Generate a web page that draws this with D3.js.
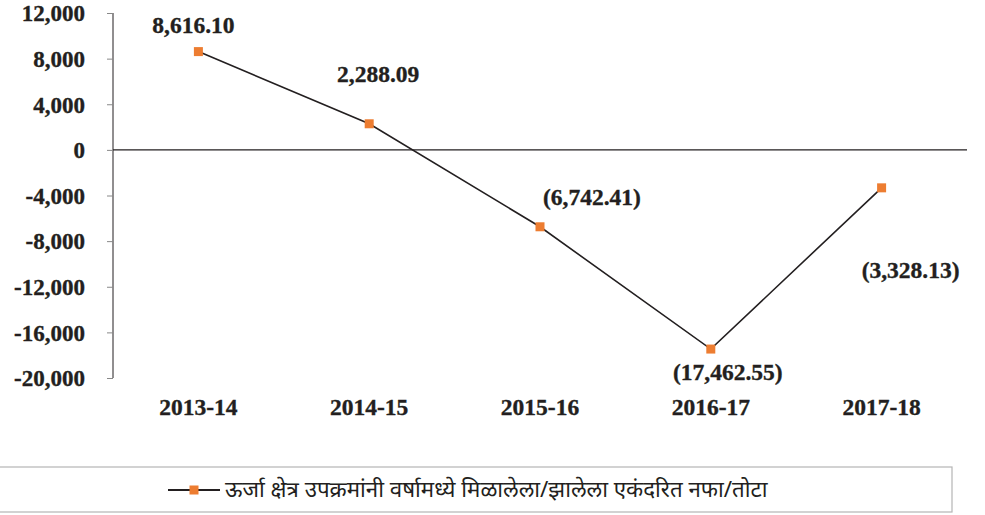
<!DOCTYPE html>
<html lang="mr">
<head>
<meta charset="utf-8">
<title>Energy sector profit / loss</title>
<script src="https://cdn.jsdelivr.net/npm/d3@7"></script>
<style>
  body { margin: 0; background: #fff; }
  svg text { fill: #231f20; }
  .num { font-family: "Liberation Serif", "Times New Roman", serif; font-weight: bold; font-size: 23.5px;
         stroke: #231f20; stroke-width: 0.35px; }
  .tick text.num { font-size: 23px; }
  .legend { font-family: "Noto Sans", "Noto Sans Devanagari", sans-serif; font-size: 22.3px; }
</style>
</head>
<body>
<script>
// data
var years = ["2013-14", "2014-15", "2015-16", "2016-17", "2017-18"];
var values = [8616.10, 2288.09, -6742.41, -17462.55, -3328.13];
var labels = ["8,616.10", "2,288.09", "(6,742.41)", "(17,462.55)", "(3,328.13)"];
var yTicks = [12000, 8000, 4000, 0, -4000, -8000, -12000, -16000, -20000];
var seriesName = "ऊर्जा क्षेत्र उपक्रमांनी वर्षामध्ये मिळालेला/झालेला एकंदरित नफा/तोटा";

// where the data labels sit relative to each point (manual placement as in the original)
var labelDx = [-5, 9, 52, 17, 29];
var labelDy = [-19, -42, -22, 31, 90];

var w = 985, h = 515;
var svg = d3.select("body").append("svg").attr("width", w).attr("height", h);

var x = d3.scaleBand().domain(years).range([113, 967]);
var y = d3.scaleLinear().domain([-20000, 12000]).range([378, 13]);

// y axis, plain hyphen for negatives like the original
var fmt = d3.format(",");
var yAxis = svg.append("g")
    .attr("transform", "translate(113,0)")
    .call(d3.axisLeft(y).tickValues(yTicks).tickSize(6).tickPadding(22)
        .tickFormat(function(d) { return fmt(d).replace("\u2212", "-"); }));
yAxis.selectAll("line").attr("stroke", "#888");
yAxis.select(".domain").attr("d", "M0," + y(12000) + "V" + y(-20000)).attr("stroke", "#231f20");
yAxis.selectAll("text").attr("class", "num").attr("dy", "0.34em");

// zero line acts as x axis
svg.append("line")
    .attr("x1", 113).attr("x2", 967)
    .attr("y1", y(0)).attr("y2", y(0))
    .attr("stroke", "#231f20").attr("stroke-width", 1.2);

// category labels
svg.selectAll("text.xlab")
    .data(years)
    .enter()
    .append("text")
    .attr("class", "num xlab")
    .attr("x", function(d) { return x(d) + x.bandwidth() / 2; })
    .attr("y", 415)
    .attr("text-anchor", "middle")
    .text(function(d) { return d; });

var cx = function(d, i) { return x(years[i]) + x.bandwidth() / 2; };

// line
var line = d3.line()
    .x(function(d, i) { return cx(d, i); })
    .y(function(d) { return y(d); });
svg.append("path")
    .datum(values)
    .attr("d", line)
    .attr("fill", "none")
    .attr("stroke", "#231f20")
    .attr("stroke-width", 1.6);

// markers
svg.selectAll("rect.pt")
    .data(values)
    .enter()
    .append("rect")
    .attr("class", "pt")
    .attr("x", function(d, i) { return cx(d, i) - 4.5; })
    .attr("y", function(d) { return y(d) - 4.5; })
    .attr("width", 9).attr("height", 9)
    .attr("fill", "#ed7d31");

// data labels
svg.selectAll("text.dlab")
    .data(values)
    .enter()
    .append("text")
    .attr("class", "num dlab")
    .attr("text-anchor", "middle")
    .attr("x", function(d, i) { return cx(d, i) + labelDx[i]; })
    .attr("y", function(d, i) { return y(d) + labelDy[i]; })
    .text(function(d, i) { return labels[i]; });

// legend box
var lg = svg.append("g");
lg.append("rect")
    .attr("x", -2).attr("y", 467).attr("width", 954).attr("height", 45)
    .attr("fill", "none").attr("stroke", "#b5b5b5").attr("stroke-width", 1.2);
lg.append("line")
    .attr("x1", 168).attr("x2", 220).attr("y1", 490).attr("y2", 490)
    .attr("stroke", "#231f20").attr("stroke-width", 1.8);
lg.append("rect")
    .attr("x", 189.5).attr("y", 485.5).attr("width", 9).attr("height", 9)
    .attr("fill", "#ed7d31");
lg.append("text")
    .attr("class", "legend")
    .attr("x", 225).attr("y", 497)
    .text(seriesName);
</script>
</body>
</html>
